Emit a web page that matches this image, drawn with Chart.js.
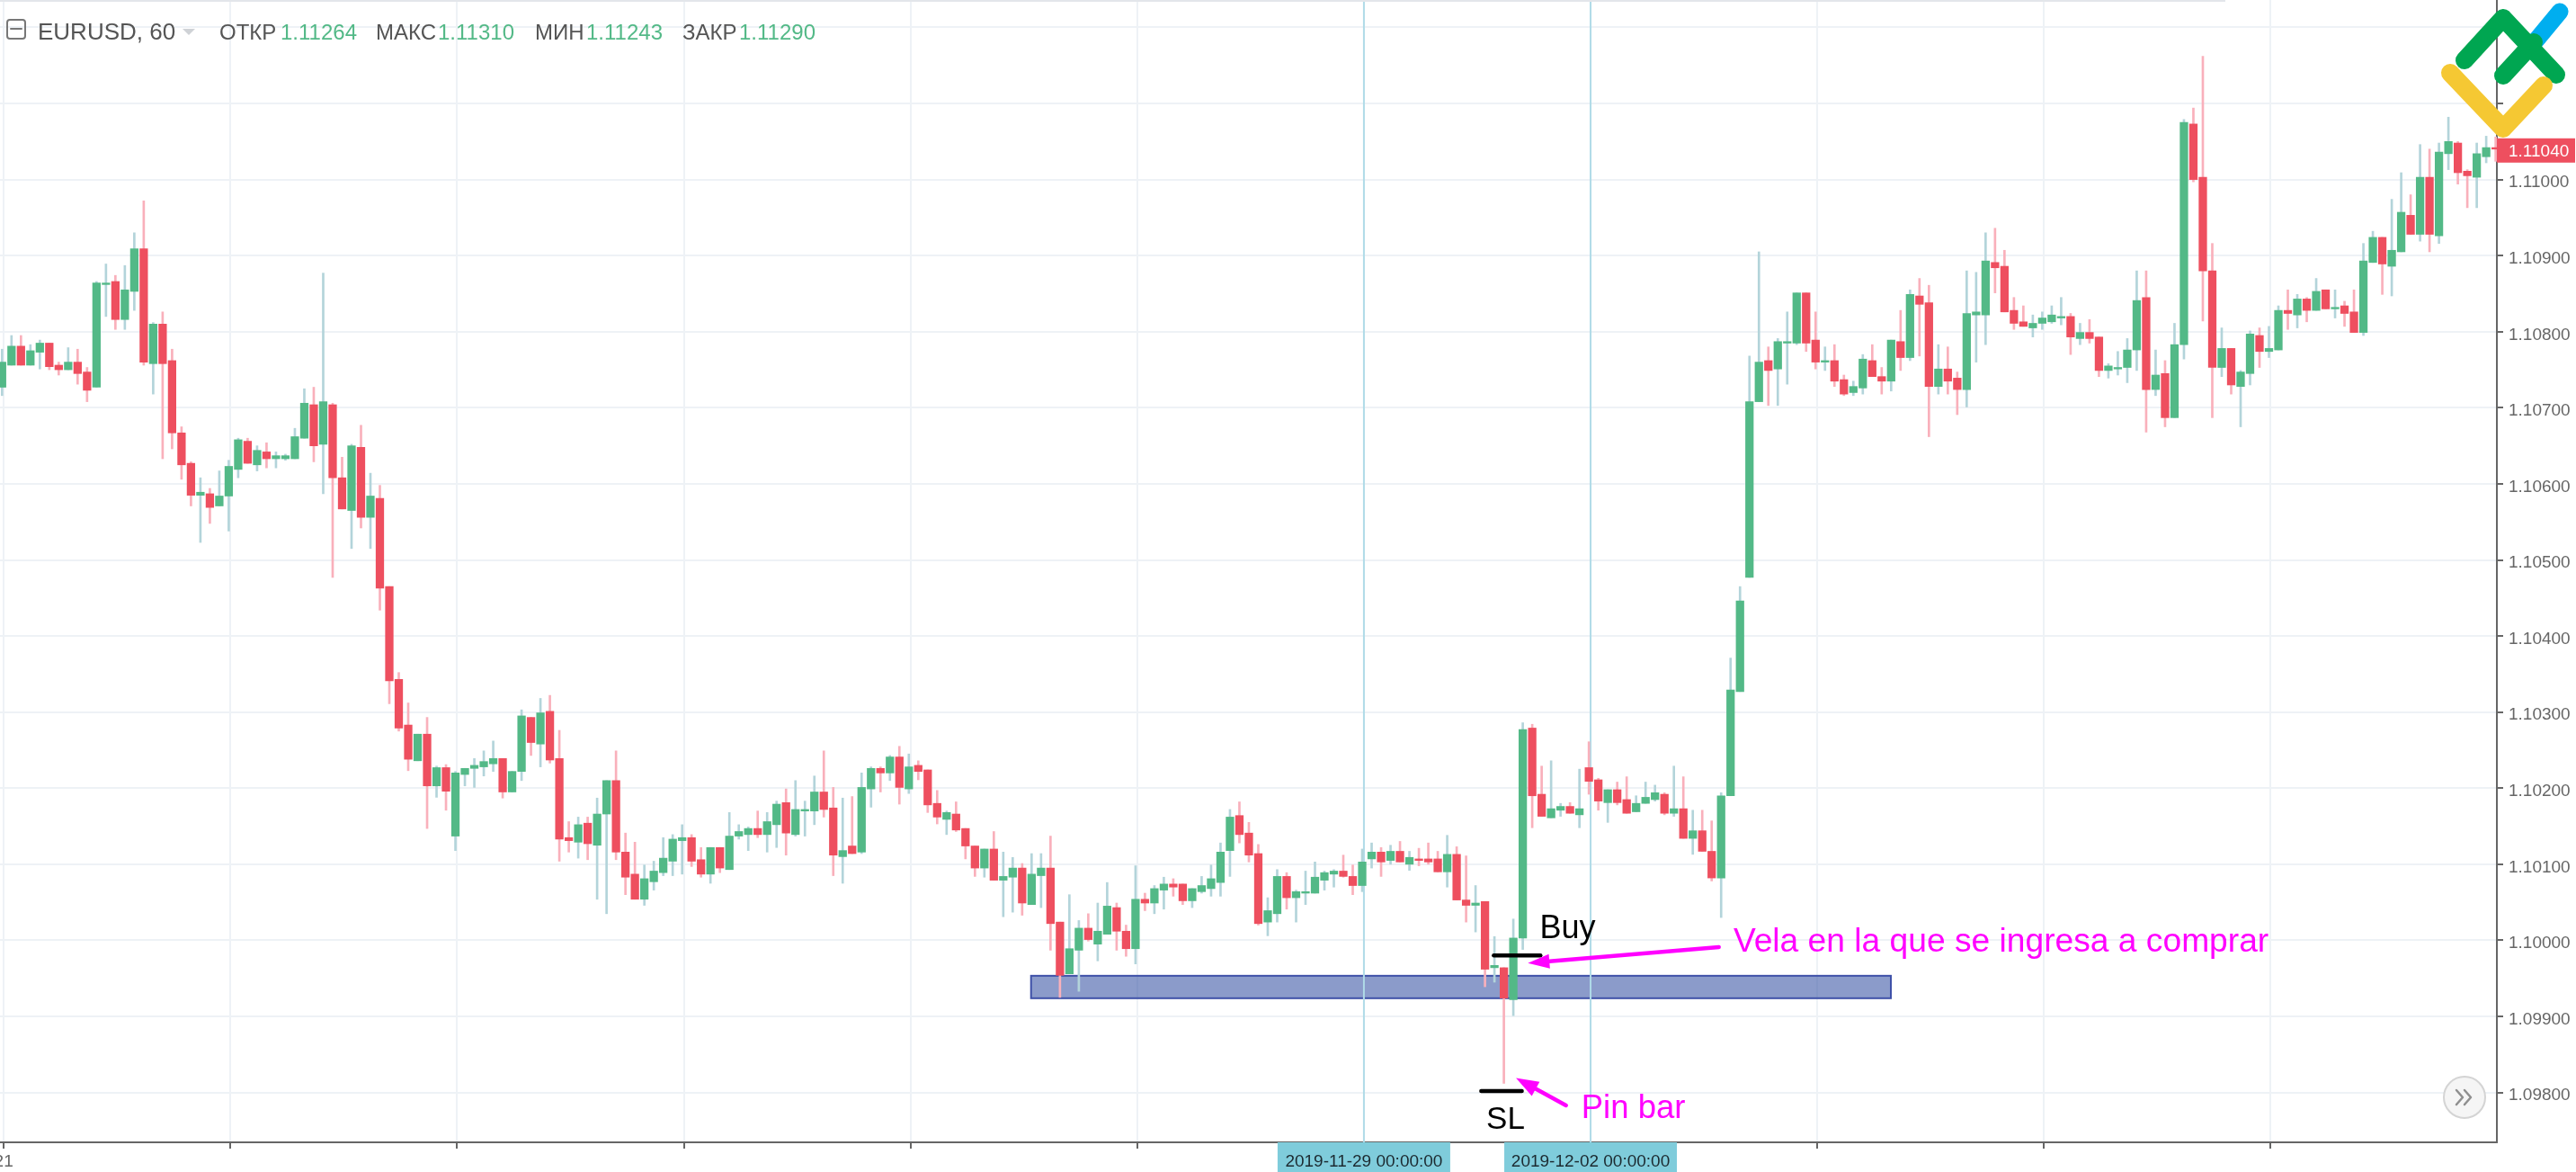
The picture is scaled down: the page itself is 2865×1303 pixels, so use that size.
<!DOCTYPE html>
<html>
<head>
<meta charset="utf-8">
<title>EURUSD, 60</title>
<script src="https://cdn.jsdelivr.net/npm/chart.js@4/dist/chart.umd.min.js"></script>
<style>
    html, body { margin: 0; padding: 0; background: #fff; overflow: hidden; }
    canvas { display: block; }
</style>
</head>
<body>
<canvas id="chart" width="2865" height="1303"></canvas>
<script>
// Bougies horaires (une ligne = 10 bougies)
const opens = [
    1.10727,1.10756,1.10781,1.10756,1.10773,1.10785,1.10756,1.10750,1.10760,1.10747,
    1.10727,1.10862,1.10866,1.10816,1.10853,1.10909,1.10758,1.10810,1.10762,1.10667,
    1.10627,1.10585,1.10587,1.10571,1.10584,1.10619,1.10656,1.10625,1.10642,1.10633,
    1.10633,1.10633,1.10660,1.10704,1.10652,1.10704,1.10608,1.10565,1.10648,1.10556,
    1.10581,1.10465,1.10343,1.10283,1.10236,1.10271,1.10203,1.10227,1.10137,1.10218,
    1.10226,1.10228,1.10232,1.10239,1.10195,1.10222,1.10293,1.10258,1.10301,1.10239,
    1.10135,1.10129,1.10154,1.10125,1.10166,1.10210,1.10116,1.10087,1.10054,1.10077,
    1.10089,1.10104,1.10131,1.10135,1.10106,1.10087,1.10122,1.10093,1.10137,1.10139,
    1.10147,1.10139,1.10152,1.10181,1.10139,1.10170,1.10170,1.10195,1.10174,1.10110,
    1.10124,1.10116,1.10199,1.10226,1.10220,1.10241,1.10199,1.10230,1.10224,1.10180,
    1.10159,1.10166,1.10147,1.10124,1.10095,1.10120,1.10079,1.10083,1.10095,1.10047,
    1.10085,1.10095,1.10024,1.09956,1.09987,1.10016,1.09995,1.10008,1.10043,1.10012,
    1.09989,1.10054,1.10049,1.10066,1.10074,1.10074,1.10052,1.10064,1.10068,1.10076,
    1.10118,1.10164,1.10141,1.10114,1.10024,1.10035,1.10084,1.10056,1.10062,1.10062,
    1.10079,1.10087,1.10091,1.10084,1.10072,1.10107,1.10116,1.10105,1.10117,1.10100,
    1.10107,1.10107,1.10107,1.10090,1.10113,1.10053,1.10046,1.10051,1.09964,1.09964,
    1.09922,1.10003,1.10279,1.10192,1.10161,1.10171,1.10176,1.10165,1.10227,1.10211,
    1.10181,1.10198,1.10185,1.10169,1.10180,1.10185,1.10192,1.10167,1.10173,1.10134,
    1.10144,1.10117,1.10082,1.10190,1.10327,1.10477,1.10708,1.10762,1.10751,1.10785,
    1.10785,1.10851,1.10789,1.10760,1.10762,1.10737,1.10720,1.10726,1.10762,1.10741,
    1.10735,1.10787,1.10766,1.10847,1.10838,1.10728,1.10751,1.10739,1.10724,1.10822,
    1.10822,1.10891,1.10886,1.10828,1.10813,1.10805,1.10811,1.10813,1.10818,1.10820,
    1.10791,1.10799,1.10793,1.10749,1.10751,1.10753,1.10776,1.10845,1.10724,1.10745,
    1.10687,1.10783,1.11073,1.11003,1.10880,1.10753,1.10778,1.10728,1.10745,1.10795,
    1.10774,1.10776,1.10828,1.10822,1.10843,1.10828,1.10855,1.10830,1.10834,1.10826,
    1.10799,1.10891,1.10924,1.10886,1.10905,1.10953,1.10928,1.11003,1.10926,1.11034,
    1.11048,1.11011,1.11003,1.11030,1.11042
];
const highs = [
    1.10777,1.10795,1.10795,1.10783,1.10789,1.10785,1.10760,1.10779,1.10777,1.10753,
    1.10866,1.10889,1.10874,1.10887,1.10930,1.10972,1.10812,1.10826,1.10777,1.10675,
    1.10629,1.10608,1.10594,1.10617,1.10631,1.10660,1.10660,1.10650,1.10654,1.10642,
    1.10639,1.10673,1.10725,1.10727,1.10877,1.10706,1.10635,1.10652,1.10677,1.10614,
    1.10598,1.10465,1.10352,1.10312,1.10271,1.10293,1.10229,1.10231,1.10222,1.10226,
    1.10239,1.10249,1.10262,1.10239,1.10222,1.10303,1.10293,1.10318,1.10322,1.10276,
    1.10156,1.10162,1.10162,1.10187,1.10210,1.10249,1.10141,1.10129,1.10099,1.10104,
    1.10135,1.10139,1.10152,1.10139,1.10122,1.10122,1.10122,1.10168,1.10152,1.10149,
    1.10170,1.10168,1.10183,1.10199,1.10210,1.10183,1.10216,1.10249,1.10201,1.10187,
    1.10189,1.10220,1.10228,1.10228,1.10243,1.10255,1.10245,1.10236,1.10224,1.10197,
    1.10170,1.10182,1.10147,1.10124,1.10120,1.10143,1.10116,1.10109,1.10101,1.10114,
    1.10114,1.10137,1.10024,1.10060,1.10026,1.10035,1.10049,1.10076,1.10049,1.10020,
    1.10098,1.10062,1.10072,1.10083,1.10081,1.10074,1.10068,1.10084,1.10099,1.10128,
    1.10172,1.10182,1.10155,1.10126,1.10056,1.10093,1.10089,1.10066,1.10091,1.10103,
    1.10091,1.10093,1.10112,1.10099,1.10120,1.10128,1.10122,1.10125,1.10130,1.10117,
    1.10121,1.10128,1.10117,1.10138,1.10123,1.10111,1.10072,1.10051,1.10005,1.09964,
    1.10028,1.10286,1.10284,1.10229,1.10236,1.10180,1.10181,1.10225,1.10261,1.10213,
    1.10198,1.10208,1.10215,1.10190,1.10208,1.10204,1.10194,1.10229,1.10215,1.10171,
    1.10171,1.10157,1.10194,1.10371,1.10465,1.10768,1.10905,1.10780,1.10791,1.10826,
    1.10851,1.10851,1.10826,1.10780,1.10783,1.10743,1.10735,1.10770,1.10783,1.10753,
    1.10789,1.10828,1.10855,1.10870,1.10861,1.10783,1.10780,1.10747,1.10880,1.10878,
    1.10930,1.10936,1.10907,1.10845,1.10834,1.10822,1.10826,1.10834,1.10845,1.10824,
    1.10811,1.10816,1.10793,1.10758,1.10774,1.10791,1.10880,1.10880,1.10776,1.10762,
    1.10811,1.11079,1.11094,1.11162,1.10916,1.10805,1.10778,1.10749,1.10801,1.10805,
    1.10807,1.10834,1.10855,1.10849,1.10845,1.10870,1.10855,1.10855,1.10840,1.10855,
    1.10916,1.10932,1.10924,1.10974,1.11009,1.10980,1.11046,1.11040,1.11048,1.11082,
    1.11050,1.11013,1.11048,1.11057,1.11056
];
const lows = [
    1.10716,1.10756,1.10756,1.10756,1.10751,1.10750,1.10743,1.10750,1.10731,1.10708,
    1.10727,1.10820,1.10803,1.10803,1.10828,1.10756,1.10718,1.10633,1.10646,1.10606,
    1.10571,1.10523,1.10548,1.10571,1.10538,1.10608,1.10627,1.10617,1.10621,1.10621,
    1.10631,1.10633,1.10660,1.10629,1.10587,1.10477,1.10567,1.10515,1.10542,1.10515,
    1.10434,1.10311,1.10275,1.10223,1.10236,1.10147,1.10188,1.10171,1.10118,1.10203,
    1.10201,1.10216,1.10222,1.10187,1.10195,1.10210,1.10243,1.10228,1.10233,1.10104,
    1.10116,1.10108,1.10106,1.10054,1.10035,1.10106,1.10060,1.10054,1.10046,1.10066,
    1.10085,1.10085,1.10087,1.10097,1.10083,1.10075,1.10089,1.10093,1.10133,1.10118,
    1.10135,1.10116,1.10122,1.10112,1.10137,1.10137,1.10152,1.10162,1.10085,1.10075,
    1.10114,1.10114,1.10175,1.10195,1.10210,1.10179,1.10193,1.10211,1.10168,1.10153,
    1.10139,1.10143,1.10107,1.10084,1.10083,1.10079,1.10031,1.10037,1.10033,1.10047,
    1.10043,1.09987,1.09925,1.09956,1.09933,1.09999,1.09973,1.10008,1.09987,1.09979,
    1.09969,1.10039,1.10035,1.10041,1.10058,1.10047,1.10043,1.10062,1.10058,1.10058,
    1.10084,1.10128,1.10103,1.10020,1.10006,1.10024,1.10041,1.10024,1.10047,1.10062,
    1.10066,1.10070,1.10083,1.10060,1.10064,1.10095,1.10084,1.10100,1.10103,1.10092,
    1.10098,1.10100,1.10090,1.10070,1.10053,1.10024,1.10011,1.09939,1.09945,1.09812,
    1.09901,1.09988,1.10148,1.10163,1.10161,1.10163,1.10167,1.10148,1.10192,1.10171,
    1.10155,1.10178,1.10167,1.10169,1.10180,1.10183,1.10165,1.10163,1.10134,1.10113,
    1.10117,1.10078,1.10030,1.10190,1.10327,1.10477,1.10708,1.10703,1.10703,1.10731,
    1.10783,1.10774,1.10751,1.10749,1.10728,1.10716,1.10716,1.10718,1.10741,1.10718,
    1.10722,1.10749,1.10762,1.10768,1.10662,1.10718,1.10718,1.10691,1.10701,1.10760,
    1.10783,1.10851,1.10826,1.10803,1.10807,1.10793,1.10803,1.10811,1.10809,1.10770,
    1.10783,1.10785,1.10741,1.10739,1.10743,1.10733,1.10749,1.10668,1.10716,1.10675,
    1.10687,1.10764,1.10997,1.10814,1.10687,1.10741,1.10718,1.10675,1.10730,1.10753,
    1.10766,1.10776,1.10803,1.10805,1.10813,1.10828,1.10830,1.10818,1.10807,1.10799,
    1.10795,1.10891,1.10849,1.10847,1.10905,1.10928,1.10919,1.10905,1.10916,1.11013,
    1.10994,1.10963,1.10963,1.11022,1.11024
];
const closes = [
    1.10760,1.10781,1.10756,1.10775,1.10785,1.10754,1.10750,1.10760,1.10745,1.10723,
    1.10864,1.10864,1.10816,1.10855,1.10909,1.10760,1.10810,1.10758,1.10667,1.10625,
    1.10585,1.10589,1.10569,1.10584,1.10623,1.10658,1.10627,1.10644,1.10633,1.10637,
    1.10637,1.10662,1.10706,1.10650,1.10708,1.10608,1.10567,1.10650,1.10556,1.10584,
    1.10463,1.10341,1.10279,1.10238,1.10271,1.10203,1.10227,1.10196,1.10220,1.10226,
    1.10230,1.10235,1.10239,1.10195,1.10222,1.10295,1.10260,1.10299,1.10237,1.10133,
    1.10131,1.10152,1.10127,1.10166,1.10210,1.10116,1.10083,1.10054,1.10081,1.10091,
    1.10108,1.10133,1.10135,1.10104,1.10087,1.10122,1.10095,1.10137,1.10143,1.10147,
    1.10139,1.10156,1.10179,1.10141,1.10172,1.10172,1.10195,1.10172,1.10112,1.10118,
    1.10114,1.10201,1.10226,1.10220,1.10241,1.10201,1.10228,1.10222,1.10178,1.10162,
    1.10168,1.10145,1.10124,1.10095,1.10120,1.10079,1.10084,1.10095,1.10049,1.10087,
    1.10095,1.10022,1.09954,1.09989,1.10016,1.10001,1.10012,1.10045,1.10012,1.09989,
    1.10054,1.10049,1.10068,1.10074,1.10070,1.10052,1.10068,1.10072,1.10081,1.10116,
    1.10162,1.10139,1.10112,1.10022,1.10039,1.10084,1.10056,1.10064,1.10064,1.10083,
    1.10089,1.10091,1.10084,1.10072,1.10103,1.10116,1.10103,1.10117,1.10103,1.10109,
    1.10105,1.10103,1.10090,1.10113,1.10053,1.10046,1.10049,1.09962,1.09967,1.09924,
    1.10003,1.10277,1.10190,1.10163,1.10173,1.10176,1.10167,1.10173,1.10209,1.10183,
    1.10198,1.10181,1.10167,1.10180,1.10188,1.10194,1.10167,1.10173,1.10134,1.10144,
    1.10117,1.10082,1.10190,1.10329,1.10446,1.10708,1.10760,1.10749,1.10787,1.10787,
    1.10851,1.10785,1.10760,1.10762,1.10735,1.10718,1.10728,1.10764,1.10741,1.10735,
    1.10789,1.10766,1.10849,1.10836,1.10728,1.10751,1.10735,1.10724,1.10824,1.10826,
    1.10893,1.10884,1.10826,1.10811,1.10807,1.10811,1.10818,1.10822,1.10820,1.10793,
    1.10799,1.10791,1.10749,1.10755,1.10753,1.10776,1.10841,1.10724,1.10743,1.10687,
    1.10783,1.11075,1.11000,1.10880,1.10753,1.10778,1.10730,1.10747,1.10797,1.10774,
    1.10778,1.10828,1.10824,1.10843,1.10828,1.10853,1.10830,1.10832,1.10824,1.10799,
    1.10893,1.10924,1.10889,1.10907,1.10957,1.10928,1.11003,1.10928,1.11036,1.11050,
    1.11009,1.11005,1.11034,1.11042,1.11040
];

const priceTicks  = [1.098, 1.099, 1.100, 1.101, 1.102, 1.103, 1.104, 1.105, 1.106, 1.107, 1.108, 1.109, 1.110, 1.111, 1.112];
const priceLabels = ['1.09800', '1.09900', '1.10000', '1.10100', '1.10200', '1.10300', '1.10400', '1.10500', '1.10600', '1.10700', '1.10800', '1.10900', '1.11000', '', ''];
const timeTicks   = [0, 24, 48, 72, 96, 120, 144, 168, 192, 216, 240];
const timeLabels  = ['21', '', '', '', '', '', '', '', '', '', ''];

// Réticule sur les deux dates
const markerIndex  = [144, 168];
const markerLabels = ['2019-11-29 00:00:00', '2019-12-02 00:00:00'];

const headerItems = [
    { text: 'EURUSD, 60', x: 42,  dark: true, size: 26 },
    { text: 'ОТКР',       x: 244, dark: true },
    { text: '1.11264',    x: 312 },
    { text: 'МАКС',       x: 418, dark: true },
    { text: '1.11310',    x: 487 },
    { text: 'МИН',        x: 595, dark: true },
    { text: '1.11243',    x: 652 },
    { text: 'ЗАКР',       x: 759, dark: true },
    { text: '1.11290',    x: 822 }
];

const lastPrice = 1.11040;

// Annotations en coordonnées du graphique (indice de bougie, prix)
const zone     = { from: 108.94, to: 199.97, top: 1.099534, bottom: 1.099239 };
const buyLine  = { from: 157.93, to: 162.87, price: 1.09980 };
const slLine   = { from: 156.6,  to: 160.9,  price: 1.09802 };
const arrows   = [
    { x1: 181.76, y1: 1.09991, x2: 161.54, y2: 1.09970, len: 24, half: 8 },
    { x1: 165.58, y1: 1.09783, x2: 160.28, y2: 1.09819, len: 25, half: 9 }
];
const notes = [
    { text: 'Buy', x: 162.8, y: 1.10003, color: '#000000', size: 36 },
    { text: 'SL', x: 157.14, y: 1.09752, color: '#000000', size: 35 },
    { text: 'Pin bar', x: 167.2, y: 1.09766, color: '#ff00ff', size: 36.5 },
    { text: 'Vela en la que se ingresa a comprar', x: 183.3, y: 1.09985, color: '#ff00ff', size: 37.2 }
];

const FONT  = '"Liberation Sans", Arial, sans-serif';
const GREEN = '#53b987';
const RED   = '#ee4f5f';
const GREEN_WICK = '#b3d4da';
const RED_WICK   = '#f9b0bb';
const GRID_COLOR = '#eef2f6';
const AXIS_COLOR = '#666666';
const GRID_SHIFT = 0.18;   // la grille tombe un peu à droite du centre des bougies

const isUp     = opens.map((o, i) => closes[i] >= o);
const bodyData = opens.map((o, i) => ({ x: i, y: [Math.min(o, closes[i]), Math.max(o, closes[i])] }));
const wickData = opens.map((o, i) => ({ x: i, y: [lows[i], highs[i]] }));

function roundLine(ctx, pts, color, width) {
    ctx.beginPath();
    pts.forEach((p, i) => i ? ctx.lineTo(p[0], p[1]) : ctx.moveTo(p[0], p[1]));
    ctx.strokeStyle = color;
    ctx.lineWidth   = width;
    ctx.lineCap     = 'round';
    ctx.lineJoin    = 'round';
    ctx.stroke();
}

function label(ctx, text, x, y, font, color, align) {
    ctx.font         = font;
    ctx.fillStyle    = color;
    ctx.textAlign    = align || 'left';
    ctx.textBaseline = 'alphabetic';
    ctx.fillText(text, x, y);
}

// Pas de marge automatique : la zone de tracé touche les bords
function noPadding(s) {
    s.paddingTop = 0;
    s.paddingBottom = 0;
    s.paddingLeft = 0;
    s.paddingRight = 0;
}

// Zone bleue et lignes verticales, sous les bougies
const underlayPlugin = {
    id: 'underlay',
    beforeDatasetsDraw(chart) {
        const { ctx, scales, chartArea } = chart;
        const { x: xs, y: ys } = scales;
        ctx.save();
        const left = xs.getPixelForValue(zone.from), right = xs.getPixelForValue(zone.to);
        const top  = ys.getPixelForValue(zone.top),  bot   = ys.getPixelForValue(zone.bottom);
        ctx.fillStyle = 'rgba(62,88,167,0.6)';
        ctx.fillRect(left, top, right - left, bot - top);
        ctx.strokeStyle = '#3f51a8';
        ctx.lineWidth = 2;
        ctx.strokeRect(left, top, right - left, bot - top);

        markerIndex.forEach(i => {
            const px = xs.getPixelForValue(i + GRID_SHIFT);
            ctx.strokeStyle = '#b0dbe8';
            ctx.lineWidth = 2;
            ctx.beginPath();
            ctx.moveTo(px, chartArea.top);
            ctx.lineTo(px, chartArea.bottom);
            ctx.stroke();
        });
        ctx.restore();
    }
};

// Flèches, textes, en-tête, logo...
const overlayPlugin = {
    id: 'overlay',
    afterDraw(chart) {
        const { ctx, scales, chartArea } = chart;
        const { x: xs, y: ys } = scales;
        ctx.save();

        // trait du haut
        ctx.fillStyle = '#e3e6ea';
        ctx.fillRect(0, 0, 2475, 2);

        // traits noirs Buy / SL
        [buyLine, slLine].forEach(l => {
            const py = ys.getPixelForValue(l.price);
            roundLine(ctx, [[xs.getPixelForValue(l.from), py], [xs.getPixelForValue(l.to), py]], '#000000', 4.5);
        });

        // flèches magenta
        arrows.forEach(a => {
            const x1 = xs.getPixelForValue(a.x1), y1 = ys.getPixelForValue(a.y1);
            const x2 = xs.getPixelForValue(a.x2), y2 = ys.getPixelForValue(a.y2);
            const ang = Math.atan2(y2 - y1, x2 - x1);
            const bx = x2 - a.len * Math.cos(ang), by = y2 - a.len * Math.sin(ang);
            roundLine(ctx, [[x1, y1], [bx, by]], '#ff00ff', 4.5);
            ctx.fillStyle = '#ff00ff';
            ctx.beginPath();
            ctx.moveTo(x2, y2);
            ctx.lineTo(bx - a.half * Math.sin(ang), by + a.half * Math.cos(ang));
            ctx.lineTo(bx + a.half * Math.sin(ang), by - a.half * Math.cos(ang));
            ctx.closePath();
            ctx.fill();
        });

        notes.forEach(n => {
            label(ctx, n.text, xs.getPixelForValue(n.x), ys.getPixelForValue(n.y), n.size + 'px ' + FONT, n.color);
        });

        // étiquettes de dates sur l'axe du temps
        markerIndex.forEach((idx, i) => {
            const px = xs.getPixelForValue(idx + GRID_SHIFT);
            ctx.fillStyle = '#7fccdb';
            ctx.fillRect(px - 96, chartArea.bottom, 192, 33);
            label(ctx, markerLabels[i], px, chartArea.bottom + 27, '19px ' + FONT, '#1c2a30', 'center');
        });

        // dernier prix
        const py = ys.getPixelForValue(lastPrice);
        ctx.fillStyle = '#ee4f5f';
        ctx.fillRect(chartArea.right, py - 12, 87, 27);
        label(ctx, lastPrice.toFixed(5), chartArea.right + 13, py + 8, '19px ' + FONT, '#ffffff');

        // en-tête
        headerItems.forEach(h => {
            label(ctx, h.text, h.x, 44, (h.size || 24) + 'px ' + FONT, h.dark ? '#555555' : GREEN);
        });
        ctx.strokeStyle = '#777777';
        ctx.lineWidth = 2;
        ctx.beginPath();
        ctx.roundRect(8, 22, 20, 21, 3);
        ctx.moveTo(12, 32);
        ctx.lineTo(24, 32);
        ctx.stroke();
        ctx.fillStyle = '#cfd2d6';
        ctx.beginPath();
        ctx.moveTo(203, 32);
        ctx.lineTo(217, 32);
        ctx.lineTo(210, 39);
        ctx.closePath();
        ctx.fill();

        // bouton »
        ctx.fillStyle = '#f5f5f5';
        ctx.strokeStyle = '#d4d4d4';
        ctx.lineWidth = 2;
        ctx.beginPath();
        ctx.arc(2741, 1220, 23, 0, Math.PI * 2);
        ctx.fill();
        ctx.stroke();
        ctx.lineCap = 'round';
        ctx.lineJoin = 'round';
        ctx.strokeStyle = '#8f8f8f';
        ctx.lineWidth = 2.5;
        ctx.beginPath();
        ctx.moveTo(2732, 1212); ctx.lineTo(2739, 1220); ctx.lineTo(2732, 1228);
        ctx.moveTo(2741, 1212); ctx.lineTo(2748, 1220); ctx.lineTo(2741, 1228);
        ctx.stroke();

        // logo
        roundLine(ctx, [[2818, 48], [2847, 13]], '#00aeef', 19);
        roundLine(ctx, [[2741, 67], [2784, 20], [2843, 83]], '#00a651', 20);
        roundLine(ctx, [[2784, 84], [2818, 47]], '#00a651', 20);
        roundLine(ctx, [[2725, 81], [2784, 143], [2829, 95]], '#f5c833', 20);

        ctx.restore();
    }
};

new Chart(document.getElementById('chart').getContext('2d'), {
    type: 'bar',
    data: {
        datasets: [
            {
                label: 'Corps',
                data: bodyData,
                backgroundColor: isUp.map(u => u ? GREEN : RED),
                barThickness: 8.6,
                borderWidth: 0,
                grouped: false
            },
            {
                label: 'Mèches',
                data: wickData,
                backgroundColor: isUp.map(u => u ? GREEN_WICK : RED_WICK),
                barThickness: 2,
                borderWidth: 0,
                grouped: false
            }
        ]
    },
    options: {
        responsive: false,
        animation: false,
        devicePixelRatio: 1,
        layout: { autoPadding: false, padding: 0 },
        plugins: { legend: { display: false }, tooltip: { enabled: false } },
        scales: {
            x: {
                type: 'linear',
                offset: false,
                min: -0.219,
                max: 264.13,
                afterFit(s) { s.height = 33; noPadding(s); },
                afterBuildTicks(s) { s.ticks = timeTicks.map(t => ({ value: t + GRID_SHIFT })); },
                grid: { offset: false, color: GRID_COLOR, lineWidth: 2, tickColor: AXIS_COLOR, tickLength: 7, tickWidth: 2 },
                border: { display: true, color: AXIS_COLOR, width: 2 },
                ticks: {
                    autoSkip: false,
                    maxRotation: 0,
                    padding: 3,
                    color: '#666666',
                    font: { family: FONT, size: 19 },
                    callback: (v, i) => timeLabels[i]
                }
            },
            y: {
                position: 'right',
                min: 1.097345,
                max: 1.11236,
                afterFit(s) { s.width = 88; noPadding(s); },
                afterBuildTicks(s) { s.ticks = priceTicks.map(p => ({ value: p })); },
                grid: { color: GRID_COLOR, lineWidth: 2, tickColor: AXIS_COLOR, tickLength: 7, tickWidth: 2 },
                border: { display: true, color: AXIS_COLOR, width: 2 },
                ticks: {
                    autoSkip: false,
                    padding: 6,
                    color: '#666666',
                    font: { family: FONT, size: 19, lineHeight: '7px' },
                    // ligne vide devant : le texte descend un peu sous le repère
                    callback: (v, i) => priceLabels[i] ? ['', priceLabels[i]] : ''
                }
            }
        }
    },
    plugins: [underlayPlugin, overlayPlugin]
});
</script>
</body>
</html>
